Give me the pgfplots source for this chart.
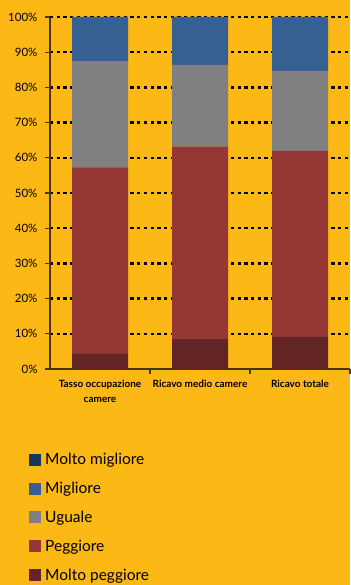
\documentclass[border=0pt]{standalone}
\usepackage{fontspec}
\setmainfont{Lato}
\usepackage{pgfplots}
\pgfplotsset{compat=1.18}
\definecolor{bg}{RGB}{252,184,20}
\definecolor{mm}{RGB}{23,55,94}
\definecolor{mi}{RGB}{55,96,146}
\definecolor{ug}{RGB}{128,128,128}
\definecolor{pe}{RGB}{149,55,53}
\definecolor{mp}{RGB}{99,37,35}
\definecolor{ax}{RGB}{70,52,12}
\begin{document}
\begin{tikzpicture}
\useasboundingbox (0,0) rectangle (350pt,585pt);
\fill[bg] (0,0) rectangle (350pt,585pt);
\begin{axis}[
  at={(50pt,216pt)}, anchor=south west,
  scale only axis, width=300pt, height=352pt,
  ybar stacked, bar width=56pt,
  xmin=-0.5, xmax=2.5, ymin=0, ymax=100,
  axis x line*=bottom, axis y line*=left,
  axis line style={ax, line width=1.1pt, -},
  xtick={0,1,2},
  xticklabels={{Tasso occupazione\\camere},{Ricavo medio camere},{Ricavo totale}},
  major x tick style={draw=none},
  minor xtick={0.5,1.5,2.5},
  minor x tick style={ax, line width=1.1pt},
  minor tick length=5pt,
  tick align=outside,
  x tick label style={align=center, font=\bfseries\fontsize{10}{15}\selectfont, yshift=-3pt},
  ytick={0,10,...,100},
  yticklabel={\pgfmathprintnumber{\tick}\%},
  y tick label style={font=\fontsize{11.5}{13}\selectfont, xshift=-4pt},
  major y tick style={ax, line width=1.1pt},
  major tick length=5pt,
  /pgf/number format/assume math mode=true,
  ymajorgrids,
  major grid style={black, line width=2.5pt, dash pattern=on 3.3pt off 3.4pt},
  legend style={at={(axis description cs:0,0)}, anchor=north west, xshift=-24pt, yshift=-80pt,
    draw=none, fill=none, font=\fontsize{15.5}{17}\selectfont,
    row sep=12pt, cells={anchor=west}},
  legend cell align=left,
  reverse legend,
  legend image code/.code={\fill[#1] (0pt,-6pt) rectangle (12pt,6pt); \path (0pt,0pt) -- (14pt,0pt);},
]
\addplot[fill=mp, draw=none] coordinates {(0,4.3) (1,8.5) (2,9.1)};
\addplot[fill=pe, draw=none] coordinates {(0,53.0) (1,54.7) (2,52.9)};
\addplot[fill=ug, draw=none] coordinates {(0,30.0) (1,23.2) (2,22.7)};
\addplot[fill=mi, draw=none] coordinates {(0,12.7) (1,13.6) (2,15.3)};
\addplot[fill=mm, draw=none] coordinates {(0,0) (1,0) (2,0)};
\legend{Molto peggiore,Peggiore,Uguale,Migliore,Molto migliore}
\end{axis}
\end{tikzpicture}
\end{document}
